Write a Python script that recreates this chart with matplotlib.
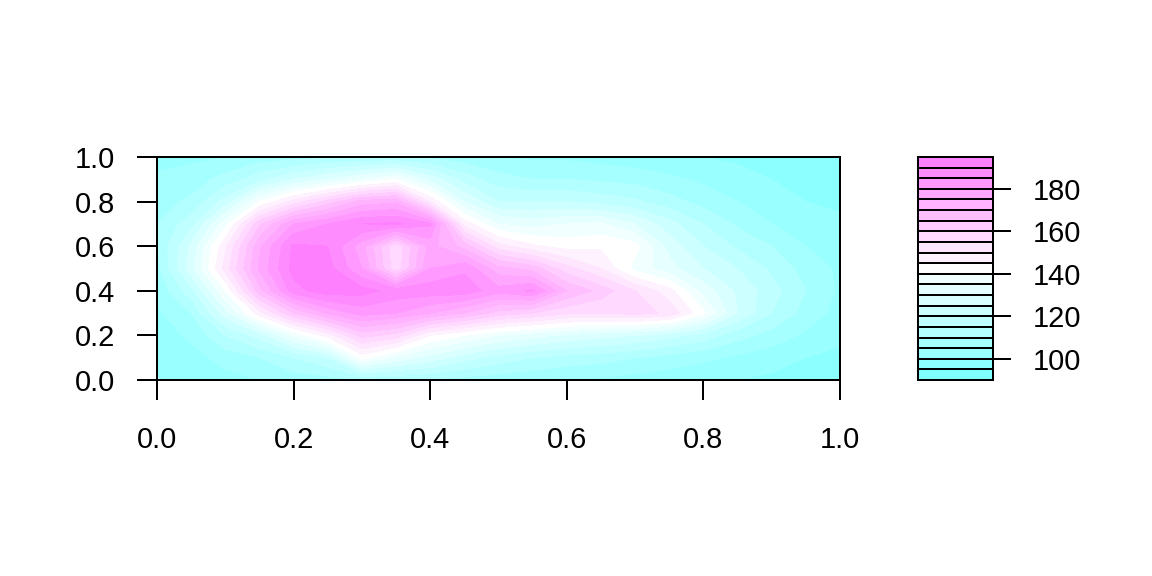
import colorsys
import numpy as np
import matplotlib
matplotlib.use("Agg")
import matplotlib.pyplot as plt

# grid positions of the height samples
x_pos = np.linspace(0, 1, 21)
y_pos = np.linspace(0, 1, 11)

# one list per x position, values going from y=0 up to y=1
heights_by_x = [
    [100, 101, 102, 104, 106, 108, 110, 110, 108, 106, 103],  # 0.00
    [101, 103, 106, 110, 118, 128, 126, 118, 111, 107, 104],  # 0.05
    [103, 107, 115, 128, 140, 152, 149, 138, 122, 112, 105],  # 0.10
    [105, 110, 122, 148, 168, 176, 174, 164, 140, 118, 107],  # 0.15
    [107, 115, 136, 165, 188, 192, 191, 180, 152, 125, 108],  # 0.20
    [108, 120, 147, 176, 193, 192, 190, 185, 162, 130, 109],  # 0.25
    [110, 142, 162, 182, 192, 180, 177, 190, 172, 135, 110],  # 0.30
    [110, 134, 158, 180, 188, 156, 156, 191, 174, 140, 110],  # 0.35
    [110, 128, 145, 175, 188, 180, 177, 186, 150, 128, 109],  # 0.40
    [108, 122, 140, 170, 188, 184, 168, 148, 130, 118, 107],  # 0.45
    [107, 118, 135, 163, 182, 172, 152, 135, 120, 112, 105],  # 0.50
    [106, 115, 132, 160, 186, 168, 146, 133, 120, 110, 104],  # 0.55
    [105, 113, 129, 156, 170, 157, 143, 135, 120, 110, 104],  # 0.60
    [104, 112, 127, 155, 163, 150, 144, 136, 118, 109, 103],  # 0.65
    [103, 110, 125, 157, 155, 138, 142, 130, 116, 108, 102],  # 0.70
    [102, 108, 122, 154, 147, 132, 128, 122, 112, 106, 101],  # 0.75
    [101, 106, 118, 141, 133, 125, 120, 115, 108, 104, 100],  # 0.80
    [100, 104, 112, 125, 124, 120, 114, 109, 105, 102, 99],   # 0.85
    [99, 102, 108, 115, 117, 114, 110, 105, 102, 100, 98],    # 0.90
    [98, 100, 104, 108, 110, 108, 105, 102, 100, 99, 97],     # 0.95
    [97, 99, 101, 103, 104, 104, 103, 101, 99, 98, 96],       # 1.00
]

levels = np.arange(90, 200, 5)
axis_ticks = [0.0, 0.2, 0.4, 0.6, 0.8, 1.0]
key_ticks = [100, 120, 140, 160, 180]


def cm_colors(n):
    # same ramp as R's cm.colors: cyan -> white -> magenta
    k = n // 2
    even = n % 2 == 0
    l1 = k + 1 - int(even)
    l2 = n - k + int(even)
    s1 = np.linspace(0.5, 0.5 / k if even else 0, l1)
    s2 = np.linspace(0, 0.5, l2)[1:]
    cols = [colorsys.hsv_to_rgb(6 / 12, s, 1) for s in s1]
    cols += [colorsys.hsv_to_rgb(10 / 12, s, 1) for s in s2]
    return cols


plt.rcParams['font.family'] = ['Liberation Sans', 'DejaVu Sans']
plt.rcParams['font.size'] = 14.5

colors = cm_colors(len(levels) - 1)
z = np.array(heights_by_x).T

fig = plt.figure(figsize=(8, 4), dpi=144)
ax = fig.add_axes([157 / 1152, 1 - 380 / 576, 683 / 1152, 223 / 576])
ax.contourf(x_pos, y_pos, z, levels=levels, colors=colors)
ax.set_xlim(0, 1)
ax.set_ylim(0, 1)
ax.set_xticks(axis_ticks)
ax.set_yticks(axis_ticks)
ax.set_xticklabels([f"{t:.1f}" for t in axis_ticks])
ax.set_yticklabels([f"{t:.1f}" for t in axis_ticks])
ax.tick_params(axis='x', length=10, width=1, pad=13)
ax.tick_params(axis='y', length=10, width=1, pad=11)
for sp in ax.spines.values():
    sp.set_linewidth(1)

# colour key
kax = fig.add_axes([918 / 1152, 1 - 380 / 576, 75 / 1152, 223 / 576])
kax.bar(0.5, np.diff(levels), bottom=levels[:-1], width=1, color=colors,
        edgecolor='black', linewidth=1, align='center')
kax.set_xlim(0, 1)
kax.set_ylim(levels[0], levels[-1])
kax.set_xticks([])
kax.yaxis.tick_right()
kax.set_yticks(key_ticks)
kax.tick_params(axis='y', length=9, width=1, pad=11)
for sp in kax.spines.values():
    sp.set_linewidth(1)

fig.savefig("out.png", dpi=144)
